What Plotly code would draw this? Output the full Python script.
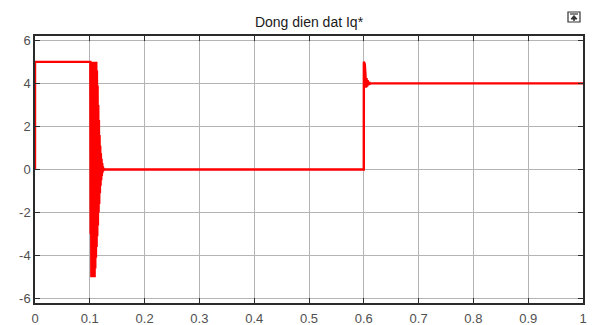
import plotly.graph_objects as go

title_text = "Dong dien dat Iq*"

# Time samples (s) and reference current Iq* values
t_start = [0.0, 0.0, 0.1004]
v_start = [0.0, 5.0, 5.0]

t_osc = [0.1010, 0.1016, 0.1022, 0.1028, 0.1034, 0.1040, 0.1046, 0.1052,
         0.1058, 0.1064, 0.1070, 0.1076, 0.1082, 0.1088, 0.1094, 0.1100,
         0.1106, 0.1112, 0.1118, 0.1124, 0.1130, 0.1136, 0.1142, 0.1148,
         0.1154, 0.1160, 0.1166, 0.1172, 0.1178, 0.1184, 0.1190, 0.1196,
         0.1202, 0.1208, 0.1214, 0.1220, 0.1226, 0.1232, 0.1238, 0.1244,
         0.1250, 0.1256]
v_osc = [5.0, -3.0, 5.0, -5.0, 5.0, -5.0, 5.0, -5.0,
         5.0, -5.0, 5.0, -5.0, 5.0, -5.0, 5.0, -4.6,
         5.0, -4.1, 5.0, -3.6, 4.6, -3.1, 3.9, -2.6,
         3.0, -2.0, 2.3, -1.6, 1.6, -1.1, 1.1, -0.75,
         0.75, -0.5, 0.5, -0.3, 0.3, -0.15, 0.15, -0.07,
         0.07, 0.0]

t_step = [0.6000, 0.6001, 0.6018, 0.6030, 0.6040, 0.6050, 0.6060, 0.6070,
          0.6080, 0.6095, 0.6110, 0.6130, 1.0]
v_step = [0.0, 5.0, 4.9, 4.4, 3.8, 4.25, 3.85, 4.15, 3.92, 4.06, 3.98, 4.0, 4.0]

t = t_start + t_osc + t_step
v = v_start + v_osc + v_step

x_ticks = [0, 0.1, 0.2, 0.3, 0.4, 0.5, 0.6, 0.7, 0.8, 0.9, 1]
x_labels = ["0", "0.1", "0.2", "0.3", "0.4", "0.5", "0.6", "0.7", "0.8", "0.9", "1"]
y_ticks = [-6, -4, -2, 0, 2, 4, 6]
y_labels = ["-6", "-4", "-2", "0", "2", "4", "6"]

fig = go.Figure()
fig.add_trace(go.Scatter(x=t, y=v, mode="lines",
                         line=dict(color="#ff0000", width=2.4, simplify=False),
                         hoverinfo="skip", showlegend=False))

# page body has an 8px margin, so the figure is offset by 8px
OFF = 8
W, H = 603 - OFF, 325 - OFF
L, R, T, B = 35 - OFF, 20, 36 - OFF, 22

axis_common = dict(showgrid=True, gridcolor="#b4b4b4", gridwidth=1,
                   showline=True, linecolor="#2b2b2b", linewidth=1.5,
                   mirror="ticks", ticks="inside", ticklen=5,
                   tickcolor="#2b2b2b", tickwidth=1, zeroline=False,
                   automargin=False,
                   tickfont=dict(family="Liberation Sans, Arial", size=13,
                                 color="#505050"))

fig.update_layout(
    width=W, height=H,
    margin=dict(l=L, r=R, t=T, b=B, autoexpand=False),
    paper_bgcolor="white", plot_bgcolor="white",
    title=dict(text=title_text, x=0.5, xref="paper", xanchor="center",
               y=1 - (22 - OFF) / H, yanchor="middle", automargin=False,
               font=dict(family="Liberation Sans, Arial", size=14,
                         color="#1a1a1a")),
    xaxis=dict(range=[0, 1], tickvals=x_ticks, ticktext=x_labels,
               ticklabelstandoff=3, **axis_common),
    yaxis=dict(range=[-6.2, 6.2], tickvals=y_ticks, ticktext=y_labels, **axis_common),
)

# small toolbar icon (decoration), given in screen pixels
def px(xp):
    return (xp - OFF - L) / (W - L - R)

def py(yp):
    return 1 - (yp - OFF - T) / (H - T - B)

fig.add_shape(type="rect", xref="paper", yref="paper",
              x0=px(568), x1=px(580), y0=py(22), y1=py(12),
              line=dict(color="#333333", width=1.2), fillcolor="white")
fig.add_shape(type="line", xref="paper", yref="paper",
              x0=px(570), x1=px(578), y0=py(14), y1=py(14),
              line=dict(color="#333333", width=1.2))
fig.add_shape(type="path", xref="paper", yref="paper",
              path=f"M {px(571)},{py(19)} L {px(574)},{py(15.5)} L {px(577)},{py(19)} Z",
              line=dict(color="#333333", width=1), fillcolor="#333333")
fig.add_shape(type="line", xref="paper", yref="paper",
              x0=px(574), x1=px(574), y0=py(17), y1=py(21),
              line=dict(color="#333333", width=1.5))

fig.write_html("out.html")
